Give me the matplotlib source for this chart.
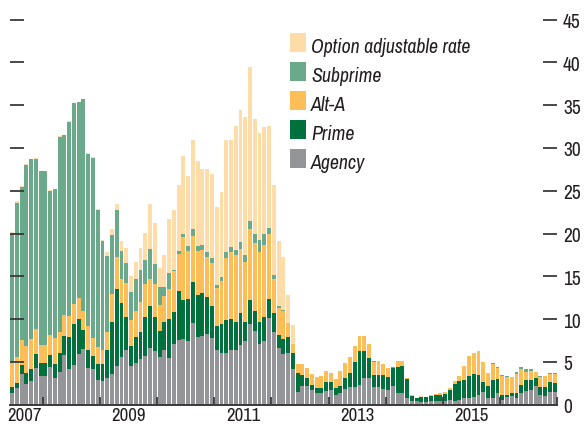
import matplotlib
matplotlib.use("Agg")
import matplotlib.pyplot as plt
from matplotlib import font_manager
from matplotlib.patches import Rectangle
import numpy as np

# ---------------- data (monthly, June 2007 .. Dec 2016) ----------------
# month index counted from January 2007 (0 = Jan 2007)
month_index = np.arange(5, 120)

agency = [1.42, 1.93, 3.56, 2.39, 2.78, 4.30, 3.37, 3.37, 4.46, 3.10,
          3.84, 5.78, 4.14, 4.65, 5.89, 6.48, 4.26, 4.14, 2.86, 2.78,
          3.10, 3.56, 4.49, 5.54, 6.36, 4.49, 4.84, 5.30, 5.66, 6.60,
          6.24, 5.54, 6.36, 5.43, 7.06, 7.53, 7.65, 7.40, 9.50, 7.90,
          8.00, 8.30, 7.75, 6.46, 6.10, 6.10, 6.35, 6.35, 6.93, 7.40,
          9.40, 8.57, 7.05, 7.50, 10.10, 8.45, 6.58, 5.88, 6.00, 4.13,
          1.44, 2.20, 2.20, 1.75, 1.37, 1.37, 1.64, 1.75, 1.17, 1.40,
          1.87, 2.10, 2.10, 2.35, 3.15, 3.15, 2.10, 2.10, 1.87, 1.75,
          2.20, 1.40, 1.40, 0.82, 0.43, 0.43, 0.35, 0.35, 0.47, 0.43,
          0.48, 0.48, 0.60, 0.48, 0.60, 0.79, 0.79, 0.95, 1.14, 1.53,
          0.79, 0.79, 1.38, 0.60, 0.95, 1.03, 0.79, 1.38, 1.61, 1.73,
          2.16, 1.18, 1.03, 1.53, 1.45]

prime = [0.66, 0.66, 1.09, 1.29, 1.36, 1.59, 1.47, 1.47, 1.32, 1.63,
         2.26, 2.26, 3.78, 4.75, 4.09, 2.22, 2.10, 1.56, 1.87, 1.95,
         3.26, 6.07, 9.01, 6.31, 3.94, 2.34, 3.04, 3.16, 4.54, 4.90,
         4.06, 3.03, 3.27, 4.57, 3.74, 5.72, 4.55, 5.00, 4.80, 4.90,
         5.10, 4.35, 3.85, 2.80, 3.30, 3.75, 3.62, 3.38, 3.77, 2.33,
         2.80, 2.43, 2.68, 2.80, 2.30, 2.25, 1.62, 1.75, 1.87, 1.87,
         2.22, 1.30, 0.90, 0.60, 0.63, 0.63, 1.06, 0.95, 0.83, 0.80,
         1.23, 1.65, 2.90, 3.92, 3.12, 2.35, 1.40, 1.40, 1.63, 1.48,
         2.13, 3.05, 3.16, 2.23, 0.62, 0.39, 0.58, 0.51, 0.60, 0.75,
         0.70, 0.78, 1.13, 1.95, 2.22, 2.11, 2.57, 2.65, 2.34, 1.17,
         1.37, 2.11, 1.63, 0.54, 0.19, 0.31, 0.59, 0.93, 1.29, 1.17,
         0.97, 0.94, 1.01, 1.09, 1.15]

alt_a = [2.92, 2.99, 2.88, 3.19, 3.51, 2.92, 2.14, 2.14, 2.33, 3.07,
         2.44, 2.41, 2.45, 2.33, 2.45, 2.26, 2.80, 2.06, 2.02, 1.63,
         2.10, 3.27, 3.76, 2.85, 3.90, 3.03, 3.02, 3.50, 3.86, 3.15,
         3.76, 3.13, 3.03, 3.50, 4.80, 4.32, 7.35, 5.60, 5.40, 5.20,
         5.00, 4.65, 5.00, 4.44, 5.10, 7.25, 7.83, 7.72, 7.50, 6.97,
         8.30, 7.85, 8.17, 8.40, 7.50, 4.05, 3.16, 3.27, 1.63, 1.05,
         1.05, 1.25, 1.20, 1.25, 1.20, 1.35, 1.25, 1.00, 1.05, 1.75,
         1.80, 1.82, 1.86, 1.73, 1.73, 1.60, 1.50, 1.65, 1.30, 1.10,
         0.00, 0.70, 0.59, 0.10, 0.08, 0.00, 0.02, 0.07, 0.11, 0.12,
         0.16, 0.20, 0.23, 0.35, 0.54, 1.63, 2.38, 2.45, 2.80, 2.30,
         1.59, 1.87, 1.29, 2.22, 2.15, 1.95, 2.22, 1.83, 0.97, 1.09,
         0.70, 1.09, 1.32, 0.94, 1.00]

subprime = [15.10, 18.02, 17.94, 21.20, 21.01, 19.96, 20.28, 20.28, 16.81, 17.36,
            22.80, 21.05, 22.68, 23.47, 23.00, 24.78, 20.19, 21.13, 15.95, 12.74,
            8.91, 6.90, 5.44, 3.30, 2.40, 3.34, 3.75, 3.84, 2.81, 3.50,
            2.44, 2.10, 1.14, 1.85, 0.10, 0.43, 0.45, 0.50, 0.80, 0.50,
            0.60, 0.50, 0.50, 0.35, 0.40, 0.70, 0.60, 0.65, 0.80, 0.85,
            1.00, 1.05, 1.40, 1.30, 0.70, 0.45, 0.24, 0.20, 0.10, 0.00,
            0.00, 0.00, 0.00, 0.00, 0.00, 0.00, 0.00, 0.05, 0.00, 0.00,
            0.00, 0.00, 0.00, 0.00, 0.00, 0.00, 0.15, 0.00, 0.00, 0.00,
            0.12, 0.00, 0.00, 0.00, 0.00, 0.00, 0.00, 0.00, 0.00, 0.00,
            0.00, 0.07, 0.00, 0.00, 0.00, 0.00, 0.00, 0.00, 0.00, 0.00,
            0.00, 0.15, 0.15, 0.16, 0.07, 0.00, 0.23, 0.27, 0.31, 0.19,
            0.00, 0.12, 0.00, 0.15, 0.10]

option_arm = [0.10, 0.16, 0.08, 0.05, 0.04, 0.03, 0.00, 0.00, 0.12, 0.04,
              0.12, 0.07, 0.12, 0.07, 0.00, 0.00, 0.12, 0.11, 0.20, 0.20,
              0.43, 0.70, 0.70, 1.10, 1.70, 1.80, 2.05, 2.50, 3.23, 5.25,
              4.70, 2.20, 3.65, 6.30, 7.00, 7.70, 9.10, 8.20, 10.40, 10.00,
              8.90, 9.70, 9.90, 9.10, 10.00, 13.10, 12.50, 14.50, 15.40, 16.05,
              18.00, 13.45, 12.50, 12.50, 12.00, 10.50, 7.50, 6.20, 3.20, 2.22,
              0.00, 0.00, 0.00, 0.00, 0.00, 0.00, 0.00, 0.00, 0.00, 0.00,
              0.00, 0.00, 0.00, 0.00, 0.00, 0.00, 0.00, 0.00, 0.00, 0.00,
              0.00, 0.00, 0.00, 0.00, 0.00, 0.00, 0.05, 0.00, 0.00, 0.00,
              0.00, 0.00, 0.00, 0.00, 0.00, 0.00, 0.00, 0.00, 0.00, 0.00,
              0.00, 0.00, 0.00, 0.00, 0.00, 0.00, 0.00, 0.00, 0.00, 0.00,
              0.00, 0.00, 0.00, 0.00, 0.00]

series_names = ["Agency", "Prime", "Alt-A", "Subprime", "Option adjustable rate"]
series_colors = ["#949599", "#00703C", "#FDBE58", "#6AA98A", "#FEDCA7"]

year_labels = ["2007", "2009", "2011", "2013", "2015"]
year_label_pos = [8.2, 30, 54, 78, 102]      # month index of label centres
year_boundaries = [12, 24, 36, 48, 60, 72, 84, 96, 108, 120]
y_ticks = [0, 5, 10, 15, 20, 25, 30, 35, 40, 45]

# ---------------- fonts ----------------
avail = {f.name for f in font_manager.fontManager.ttflist}
fam = [f for f in ["Archivo Narrow", "Asap Condensed", "Liberation Sans", "DejaVu Sans"]
       if f in avail]
plt.rcParams["font.family"] = fam

W, H = 584, 427
fig = plt.figure(figsize=(W / 100, H / 100), dpi=100)
ax = fig.add_axes([9.9 / W, 21.2 / H, (557 - 9.9) / W, 385.2 / H])

series = [agency, prime, alt_a, subprime, option_arm]
bottom = np.zeros(len(month_index))
for vals, col, name in zip(series, series_colors, series_names):
    v = np.asarray(vals, dtype=float)
    ax.bar(month_index + 0.5, v, width=0.82, bottom=bottom, color=col,
           linewidth=0, label=name)
    bottom += v

ax.set_xlim(5.05, 120)
ax.set_ylim(0, 45)

for s in ["top", "left", "right"]:
    ax.spines[s].set_visible(False)
ax.spines["bottom"].set_color("#3a3a3a")
ax.spines["bottom"].set_linewidth(1.4)
ax.spines["bottom"].set_zorder(3)

tick_col = "#3a3a3a"
ax.set_yticks(y_ticks)
ax.set_yticklabels([str(t) for t in y_ticks])
ax.tick_params(axis="y", which="major", direction="in", left=True, right=True,
               labelleft=False, labelright=True, length=10, width=1.3,
               color=tick_col, labelsize=14, labelcolor="#231f20", pad=4.3)

ax.set_xticks(year_boundaries)
ax.set_xticklabels([])
ax.set_xticks(year_label_pos, minor=True)
ax.set_xticklabels(year_labels, minor=True)
ax.tick_params(axis="x", which="major", direction="in", length=6, width=1.3,
               color=tick_col)
ax.tick_params(axis="x", which="minor", length=0, labelsize=13.5,
               labelcolor="#231f20", pad=1.5)

ax.yaxis.get_major_ticks()[0].tick1line.set_visible(False)
ax.yaxis.get_major_ticks()[0].tick2line.set_visible(False)

# ---------------- legend (top to bottom) ----------------
leg_x0, leg_w, leg_h = 290, 16, 19
leg_top0, leg_step = 34.2, 29.0
for i, idx in enumerate([4, 3, 2, 1, 0]):
    top = leg_top0 + i * leg_step
    fig.add_artist(Rectangle((leg_x0 / W, 1 - (top + leg_h) / H), leg_w / W, leg_h / H,
                             transform=fig.transFigure, color=series_colors[idx], lw=0))
    fig.text(311 / W, 1 - (top + leg_h - 0.5) / H, series_names[idx], ha="left",
             va="baseline", fontsize=14.3, style="italic", color="#231f20")

fig.savefig("out.png", dpi=100)
